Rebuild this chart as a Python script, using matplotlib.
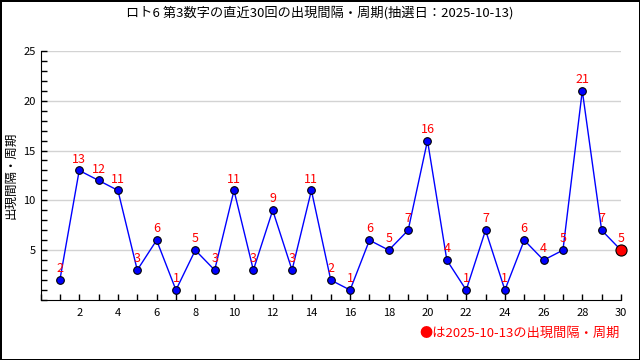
import numpy as np
import matplotlib
matplotlib.use("Agg")
import matplotlib.pyplot as plt
from matplotlib.ticker import MultipleLocator

plt.rcParams['font.family'] = ['Noto Sans CJK JP', 'DejaVu Sans']

# draw number 1..30 (most recent 30 draws) and interval values
draws = list(range(1, 31))
intervals = [2, 13, 12, 11, 3, 6, 1, 5, 3, 11, 3, 9, 3, 11, 2,
             1, 6, 5, 7, 16, 4, 1, 7, 1, 6, 4, 5, 21, 7, 5]
xticks = list(range(2, 31, 2))
yticks = [5, 10, 15, 20, 25]
title = "ロト6 第3数字の直近30回の出現間隔・周期(抽選日：2025-10-13)"
ylabel = "出現間隔・周期"
note = "●は2025-10-13の出現間隔・周期"

fig = plt.figure(figsize=(6.4, 3.6), dpi=100, linewidth=2, edgecolor='black')
ax = fig.add_axes([0.0633, 0.1667, 0.907, 0.692])

ax.plot(draws, intervals, color='#0000ff', linewidth=1, zorder=3)
ax.plot(draws[:-1], intervals[:-1], 'o', color='#0000ff', markeredgecolor='black',
        markeredgewidth=0.8, markersize=5.5, zorder=4)
ax.plot(draws[-1], intervals[-1], 'o', color='red', markeredgecolor='black',
        markeredgewidth=0.8, markersize=8, zorder=5, clip_on=False)

for x, y in zip(draws, intervals):
    ax.annotate(str(y), (x, y), xytext=(0, 3.5), textcoords='offset points',
                ha='center', va='bottom', color='red', fontsize=9)

ax.set_xlim(0, 30)
ax.set_ylim(0, 25)
ax.set_xticks(xticks)
ax.xaxis.set_minor_locator(MultipleLocator(1))
ax.set_yticks(yticks)
ax.yaxis.set_minor_locator(MultipleLocator(1))
ax.tick_params(which='both', direction='in', length=4, width=1, labelsize=8)
ax.tick_params(axis='x', pad=6)
ax.grid(axis='y', color='#d3d3d3', linewidth=1)
ax.set_axisbelow(True)
for s in ['top', 'right']:
    ax.spines[s].set_visible(False)

ax.set_ylabel(ylabel, fontsize=9, labelpad=4)
fig.text(0.5, 0.965, title, ha='center', va='center', fontsize=9.5)
fig.text(0.968, 0.075, note, ha='right', va='center', color='red', fontsize=9.5)

fig.savefig('out.png', dpi=100, edgecolor=fig.get_edgecolor())
